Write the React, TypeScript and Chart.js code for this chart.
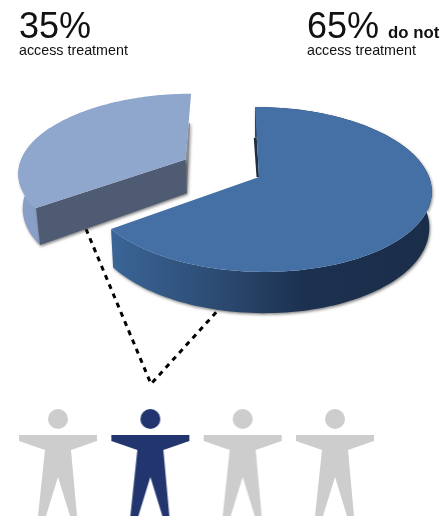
import React, { useEffect, useRef } from "react";
import { Chart, registerables } from "chart.js";

Chart.register(...registerables);

const sliceLabels = ["do not access treatment", "access treatment"];
const sliceValues = [65, 35];
const sliceColors = ["#4470a6", "#8fa6cd"];
const people = [0, 1, 2, 3];
const peopleTreated = [false, true, false, false];

const FONT = '"Liberation Sans", Arial, sans-serif';
const PERSPECTIVE = 0.151;
const SQUASH = 0.474;
const SKEW = 4.6;
const DEPTH = 35;

const piePlugin = {
  id: "pie3d",
  beforeDatasetsDraw(chart: any) {
    const ctx = chart.ctx as CanvasRenderingContext2D;
    const arcs = chart.getDatasetMeta(0).data;
    const first = arcs[0].getProps(["x", "y", "outerRadius"], true);
    const cx = first.x, cy = first.y, R = first.outerRadius;

    const proj = (x: number, y: number) => {
      const u = (x - cx) / R, v = (y - cy) / R;
      const w = 1 - PERSPECTIVE * v;
      return { x: cx + (R * u + SKEW * v) / w, y: cy + (R * SQUASH * v) / w, w };
    };
    const path = (pts: { x: number; y: number }[]) => {
      ctx.beginPath();
      pts.forEach((p, i) => (i ? ctx.lineTo(p.x, p.y) : ctx.moveTo(p.x, p.y)));
      ctx.closePath();
    };
    const lerp = (p: any, q: any, t: number) => ({ x: p.x + (q.x - p.x) * t, y: p.y + (q.y - p.y) * t, w: p.w + (q.w - p.w) * t });
    const shadow = (on: boolean) => {
      ctx.shadowColor = on ? "rgba(50,50,50,0.6)" : "transparent";
      ctx.shadowBlur = on ? 3 : 0;
      ctx.shadowOffsetX = on ? 1 : 0;
      ctx.shadowOffsetY = on ? 1.5 : 0;
    };

    ctx.save();

    // Leader lines, running from the light slice to the highlighted person.
    ctx.strokeStyle = "#000";
    ctx.lineWidth = 3;
    ctx.setLineDash([5, 5]);
    ctx.beginPath();
    ctx.moveTo(86, 229);
    ctx.lineTo(151, 384);
    ctx.lineTo(220, 308);
    ctx.stroke();
    ctx.setLineDash([]);

    [1, 0].forEach((index) => {
      const arc = arcs[index];
      const { startAngle, endAngle } = arc.getProps(["startAngle", "endAngle"], true);
      const off = arc.options.offset || 0;
      const mid = (startAngle + endAngle) / 2;
      const ox = cx + Math.cos(mid) * off;
      const oy = cy + Math.sin(mid) * off;
      const at = (a: number, r: number) => proj(ox + Math.cos(a) * r, oy + Math.sin(a) * r);
      const shrink = index === 1 ? 0.982 : 0.986;
      const ext = (p: { x: number; y: number; w: number }) => ({
        x: cx + (p.x - cx) * shrink,
        y: p.y + DEPTH / p.w,
        w: p.w,
      });
      const rim: any[] = [];
      const N = 140;
      for (let i = 0; i <= N; i++) rim.push(at(startAngle + ((endAngle - startAngle) * i) / N, R));
      const apex = proj(ox, oy);

      // Outer wall; on the light slice only the part round the left end can be seen.
      const seen = index === 1 ? rim.slice(0, 70) : rim;
      const wall = seen.concat(seen.map(ext).reverse());
      let wallFill: any = "#8a9fc7";
      if (index === 0) {
        const g = ctx.createLinearGradient(112, 0, 432, 0);
        g.addColorStop(0, "#3a6597");
        g.addColorStop(0.33, "#2c4b72");
        g.addColorStop(0.6, "#1c3150");
        g.addColorStop(1, "#1a2e4a");
        wallFill = g;
      }
      shadow(true);
      path(wall);
      ctx.fillStyle = wallFill;
      ctx.fill();

      // Radial faces
      const a = rim[0], b = rim[rim.length - 1];
      if (index === 1) {
        const s = lerp(b, apex, 0.45);
        path([s, apex, ext(apex), { x: s.x + 1.5, y: s.y }]);
        ctx.fillStyle = "#8a8d94";
        ctx.fill();
        path([apex, a, ext(a), ext(apex)]);
        ctx.fillStyle = "#4f5b72";
        ctx.fill();
      } else {
        const s = lerp(a, apex, 0.44);
        shadow(false);
        path([s, apex, { x: apex.x - 2.5, y: apex.y }, { x: s.x - 3, y: s.y }]);
        ctx.fillStyle = "#1f2d42";
        ctx.fill();
      }

      // Top surface
      shadow(false);
      path([apex, ...rim]);
      ctx.fillStyle = arc.options.backgroundColor;
      ctx.fill();
    });

    ctx.restore();
    return false;
  },
};

function personImage(color: string) {
  const c = document.createElement("canvas");
  c.width = 100;
  c.height = 120;
  const g = c.getContext("2d")!;
  g.fillStyle = color;
  g.beginPath();
  g.arc(50, 19, 10, 0, Math.PI * 2);
  g.fill();
  const shape = [
    [11, 35], [89, 35], [89, 41], [63, 50], [69, 116], [62, 116],
    [50, 77], [38, 116], [30, 116], [37, 50], [11, 41],
  ];
  g.beginPath();
  shape.forEach(([x, y], i) => (i ? g.lineTo(x, y) : g.moveTo(x, y)));
  g.closePath();
  g.fill();
  return c;
}

const textBase: React.CSSProperties = {
  position: "absolute",
  fontFamily: FONT,
  color: "#111",
  whiteSpace: "nowrap",
  lineHeight: "normal",
};

function Label(props: { x: number; base: number; size: number; bold?: boolean; children: string }) {
  const { x, base, size, bold, children } = props;
  return (
    <span style={{ ...textBase, left: x, top: base - 0.905 * size, fontSize: size, fontWeight: bold ? 700 : 400 }}>
      {children}
    </span>
  );
}

export default function App() {
  const pieRef = useRef<HTMLCanvasElement>(null);
  const iconRef = useRef<HTMLCanvasElement>(null);

  useEffect(() => {
    document.body.style.margin = "0";
    const pie = new Chart(pieRef.current!, {
      type: "pie",
      data: {
        labels: sliceLabels,
        datasets: [{ data: sliceValues, backgroundColor: sliceColors, borderWidth: 0, offset: [0, 84] }],
      },
      options: {
        animation: false,
        responsive: false,
        radius: 170,
        layout: { padding: { left: 73, right: 0, top: 0, bottom: 166 } },
        plugins: { legend: { display: false }, tooltip: { enabled: false } },
      },
      plugins: [piePlugin],
    } as any);

    const icons = new Chart(iconRef.current!, {
      type: "scatter",
      data: {
        datasets: [
          {
            data: people.map((p) => ({ x: p, y: 0 })),
            pointStyle: peopleTreated.map((t) => personImage(t ? "#22356f" : "#cdcdcd")),
            clip: false,
          },
        ],
      },
      options: {
        animation: false,
        responsive: false,
        layout: { padding: { left: 58, right: 110, top: 0, bottom: 0 } },
        scales: {
          x: { type: "linear", display: false, min: 0, max: 3 },
          y: { type: "linear", display: false, min: -1, max: 1 },
        },
        plugins: { legend: { display: false }, tooltip: { enabled: false } },
      },
    } as any);

    return () => {
      pie.destroy();
      icons.destroy();
    };
  }, []);

  return (
    <div style={{ position: "relative", width: 445, height: 520, background: "#fff", overflow: "hidden" }}>
      <canvas ref={pieRef} width={445} height={520} style={{ position: "absolute", left: 0, top: 0 }} />
      <canvas ref={iconRef} width={445} height={120} style={{ position: "absolute", left: 0, top: 400 }} />
      <Label x={19} base={38} size={36}>35%</Label>
      <Label x={19} base={55} size={14.3}>access treatment</Label>
      <Label x={307} base={38} size={36}>65%</Label>
      <Label x={388} base={38} size={16.8} bold>do not</Label>
      <Label x={307} base={55} size={14.3}>access treatment</Label>
    </div>
  );
}
